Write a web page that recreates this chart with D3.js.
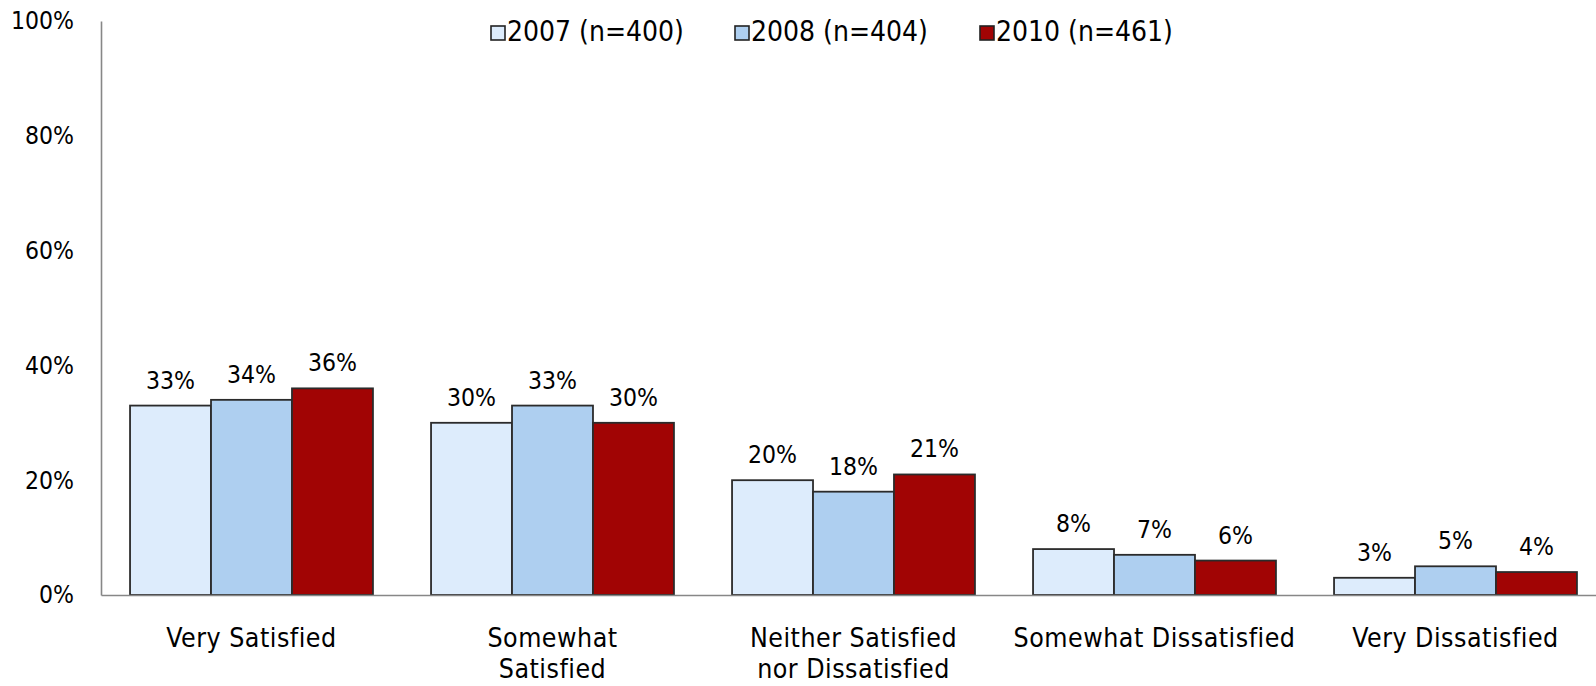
<!DOCTYPE html>
<html>
<head>
<meta charset="utf-8">
<script src="https://cdn.jsdelivr.net/npm/d3@7"></script>
<style>
  html, body { margin: 0; padding: 0; background: #fff; }
  svg { display: block; }
  .num { font-family: "DejaVu Sans Condensed", "DejaVu Sans", sans-serif; }
  .txt { font-family: "DejaVu Sans Condensed", "DejaVu Sans", sans-serif; }
</style>
</head>
<body>
<svg id="chart" width="1596" height="686"></svg>
<script>
const categories = [
  ["Very Satisfied"],
  ["Somewhat", "Satisfied"],
  ["Neither Satisfied", "nor Dissatisfied"],
  ["Somewhat Dissatisfied"],
  ["Very Dissatisfied"]
];
const seriesNames = ["2007 (n=400)", "2008 (n=404)", "2010 (n=461)"];
const values2007 = [33, 30, 20, 8, 3];
const values2008 = [34, 33, 18, 7, 5];
const values2010 = [36, 30, 21, 6, 4];
const yTicks = [0, 20, 40, 60, 80, 100];
const colors = ["#ddecfc", "#aecff0", "#a10404"];

const seriesValues = [values2007, values2008, values2010];
const catKeys = categories.map(c => c.join(" "));

const svg = d3.select("#chart");
const mLeft = 101, mRight = 1606, mTop = 21, mBottom = 595;

const x0 = d3.scaleBand().domain(catKeys).range([mLeft, mRight]).paddingInner(0.193).paddingOuter(0.0965);
const x1 = d3.scaleBand().domain(seriesNames).range([0, x0.bandwidth()]);
const y = d3.scaleLinear().domain([0, 100]).range([mBottom, mTop]);

// Y axis
const yAxis = d3.axisLeft(y).tickValues(yTicks).tickSize(0).tickPadding(27).tickFormat(d => d + "%");
const gy = svg.append("g").attr("transform", `translate(${mLeft},0)`).call(yAxis);
gy.select(".domain").attr("stroke", "#878787").attr("stroke-width", 1.6);
gy.selectAll("text").attr("class", "num").attr("font-size", 24.5).attr("fill", "#000");

// Bars
const groups = svg.append("g").selectAll("g")
  .data(catKeys).join("g")
  .attr("transform", d => `translate(${x0(d)},0)`);

groups.selectAll("rect")
  .data((d, i) => seriesNames.map((s, j) => ({ s, v: seriesValues[j][i], j })))
  .join("rect")
  .attr("x", d => x1(d.s))
  .attr("y", d => y(d.v))
  .attr("width", x1.bandwidth())
  .attr("height", d => y(0) - y(d.v))
  .attr("fill", d => colors[d.j])
  .attr("stroke", "#2b2b2b")
  .attr("stroke-width", 1.8);

groups.selectAll("text.val")
  .data((d, i) => seriesNames.map((s, j) => ({ s, v: seriesValues[j][i], j })))
  .join("text")
  .attr("class", "val num")
  .attr("x", d => x1(d.s) + x1.bandwidth() / 2)
  .attr("y", d => y(d.v) - 17)
  .attr("text-anchor", "middle")
  .attr("font-size", 24.5)
  .attr("fill", "#000")
  .text(d => d.v + "%");

// X axis
const xAxis = d3.axisBottom(x0).tickSize(0).tickFormat("");
const gx = svg.append("g").attr("transform", `translate(0,${mBottom})`).call(xAxis);
gx.select(".domain").attr("stroke", "#878787").attr("stroke-width", 1.6);

const catLabels = svg.append("g").selectAll("text")
  .data(categories).join("text")
  .attr("class", "txt")
  .attr("x", (d, i) => x0(catKeys[i]) + x0.bandwidth() / 2)
  .attr("y", 639)
  .attr("text-anchor", "middle")
  .attr("dominant-baseline", "middle")
  .attr("font-size", 26.5)
  .attr("letter-spacing", 0.5)
  .attr("fill", "#000");
catLabels.selectAll("tspan")
  .data(d => d).join("tspan")
  .attr("x", function() { return d3.select(this.parentNode).attr("x"); })
  .attr("dy", (d, i) => i === 0 ? 0 : 31)
  .text(d => d);

// Legend
const legendX = [491, 735, 980];
const legend = svg.append("g").selectAll("g")
  .data(seriesNames).join("g")
  .attr("transform", (d, i) => `translate(${legendX[i]},33)`);
legend.append("rect")
  .attr("x", 0).attr("y", -7).attr("width", 14).attr("height", 14)
  .attr("fill", (d, i) => colors[i])
  .attr("stroke", "#222").attr("stroke-width", 1.6);
legend.append("text")
  .attr("class", "txt")
  .attr("x", 16).attr("y", 0)
  .attr("dominant-baseline", "middle")
  .attr("font-size", 28)
  .attr("fill", "#000")
  .text(d => d);
</script>
</body>
</html>
